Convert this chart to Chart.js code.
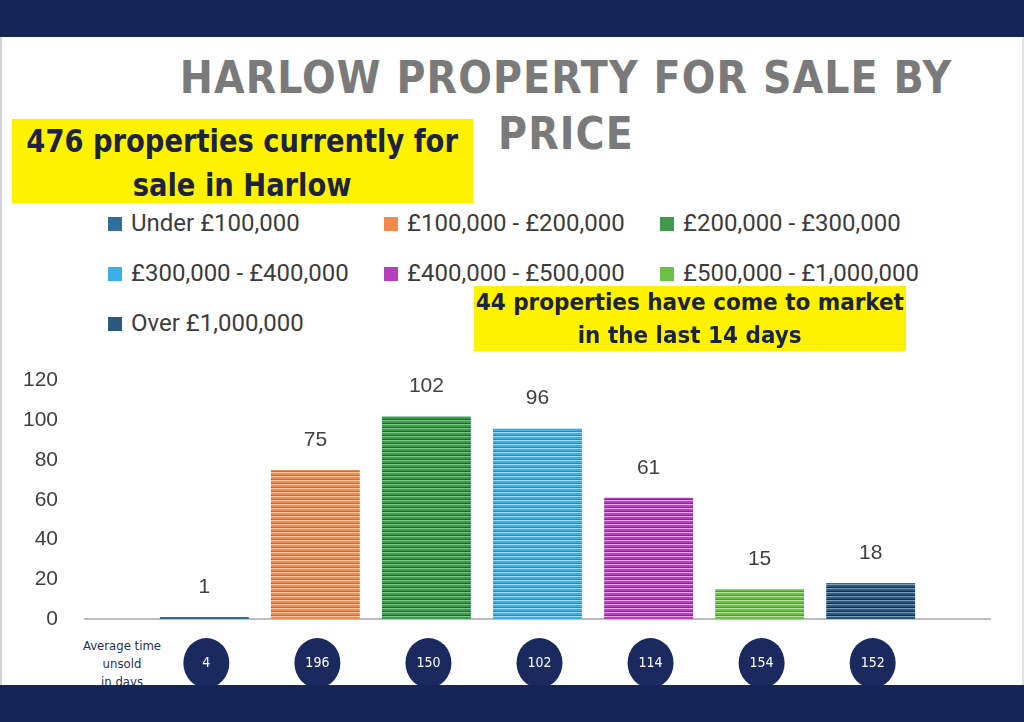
<!DOCTYPE html>
<html>
<head>
<meta charset="utf-8">
<script src="https://cdn.jsdelivr.net/npm/chart.js@4/dist/chart.umd.min.js"></script>
<style>
  html, body { margin: 0; padding: 0; }
  body { width: 1024px; height: 722px; position: relative; overflow: hidden; background: #fff; font-family: Roboto, sans-serif; }
  .band { position: absolute; left: 0; width: 1024px; background: #152656; z-index: 5; }
  .card { position: absolute; left: 0; top: 37px; height: 648px; border-left: 2px solid #d4d4d4; border-right: 2px solid #e2e2e2; box-sizing: border-box; width: 1024px; }
  .title { position: absolute; left: 116px; width: 900px; top: 50px; text-align: center; font-family: "DejaVu Sans Condensed", "DejaVu Sans", sans-serif; font-weight: bold; font-size: 44px; letter-spacing: 1.1px; color: #7a7a7a; line-height: 56px; }
  .yellow { position: absolute; background: #fff200; color: #1b2340; font-family: "DejaVu Sans Condensed", sans-serif; font-weight: bold; text-align: center; white-space: nowrap; z-index: 3; }
  .yellow span { display: inline-block; transform-origin: center; }
  #legend { position: absolute; left: 108px; top: 208px; width: 840px; }
  .li { position: absolute; font-size: 24px; color: #3c3c3c; white-space: nowrap; line-height: 30px; }
  .li span.sw { display: inline-block; width: 14px; height: 14px; margin-right: 9px; vertical-align: 0px; }
  .avg { position: absolute; left: 70px; top: 637px; width: 104px; text-align: center; font-family: "DejaVu Sans Condensed", sans-serif; font-size: 13px; line-height: 18px; color: #1f2d5c; }
  #wrap { position: absolute; left: 0; top: 341px; width: 1024px; height: 353px; }
</style>
</head>
<body>
<div class="card"></div>
<div class="band" style="top:0;height:37px"></div>
<div class="band" style="top:685px;height:37px"></div>
<div class="title">HARLOW PROPERTY FOR SALE BY<br>PRICE</div>
<div class="yellow" style="left:12px;top:119px;width:461px;height:84px;font-size:32px;line-height:44px;"><span style="transform:scaleX(0.95)">476 properties currently for</span><br><span style="transform:scaleX(0.95)">sale in Harlow</span></div>
<div class="yellow" style="left:474px;top:286px;width:432px;height:65px;font-size:23px;line-height:33px;"><span style="transform:scaleX(1.04)">44 properties have come to market</span><br><span style="transform:scaleX(1.04)">in the last 14 days</span></div>
<div id="legend"></div>
<div class="avg">Average time<br>unsold<br>in days</div>
<div id="wrap"><canvas id="c"></canvas></div>
<script>
var priceBands = ["Under £100,000", "£100,000 - £200,000", "£200,000 - £300,000", "£300,000 - £400,000", "£400,000 - £500,000", "£500,000 - £1,000,000", "Over £1,000,000"];
var propertyCounts = [1, 75, 102, 96, 61, 15, 18];
var daysUnsold = [4, 196, 150, 102, 114, 154, 152];
var yTicks = [0, 20, 40, 60, 80, 100, 120];

// base, dark line, light line
var bandColours = [
  ["#2f6f9a", "#1e4f72", "#6aa2c6"],
  ["#f28a4c", "#d9672a", "#fbc7a4"],
  ["#3f9a4e", "#1c6a2a", "#7cc68a"],
  ["#3aaee6", "#1f8cc6", "#a4dcf6"],
  ["#b63fbe", "#8a2393", "#e7a6ec"],
  ["#6cc04a", "#4a9a30", "#b4e69c"],
  ["#2d5a7c", "#152f4a", "#7a9cb6"]
];

var stripe = function(c) {
  var p = document.createElement('canvas');
  p.width = 4; p.height = 4;
  var g = p.getContext('2d');
  g.fillStyle = c[0]; g.fillRect(0, 0, 4, 4);
  g.fillStyle = c[1]; g.fillRect(0, 2, 4, 1);
  g.fillStyle = c[2]; g.fillRect(0, 3, 4, 1);
  return g.createPattern(p, 'repeat');
}

// legend, three columns like the original
var legend = document.getElementById('legend');
priceBands.forEach(function(name, i) {
  var d = document.createElement('div');
  d.className = 'li';
  d.style.left = (i % 3) * 276 + 'px';
  d.style.top = Math.floor(i / 3) * 50 + 'px';
  d.innerHTML = '<span class="sw" style="background:' + bandColours[i][0] + '"></span>' + name;
  legend.appendChild(d);
});

var datasets = priceBands.map(function(name, i) {
  return {
    label: name,
    data: [propertyCounts[i]],
    backgroundColor: stripe(bandColours[i]),
    borderWidth: 0,
    categoryPercentage: 0.859,
    barPercentage: 0.8
  };
});

var labelsAndCircles = {
  id: 'labelsAndCircles',
  afterDatasetsDraw: function(chart) {
    var ctx = chart.ctx;
    var cy = chart.chartArea.bottom + 44;
    ctx.save();
    chart.data.datasets.forEach(function(ds, i) {
      var bar = chart.getDatasetMeta(i).data[0];
      ctx.fillStyle = '#404040';
      ctx.font = '21px "Liberation Sans", Arial, sans-serif';
      ctx.textAlign = 'center';
      ctx.textBaseline = 'middle';
      ctx.fillText(String(ds.data[0]), bar.x, bar.y - 30);
      // average days unsold badge
      ctx.beginPath();
      ctx.fillStyle = '#1a2a5e';
      ctx.ellipse(bar.x + 2, cy, 23, 25, 0, 0, Math.PI * 2);
      ctx.fill();
      ctx.fillStyle = '#ffffff';
      ctx.font = '14px "DejaVu Sans Condensed", sans-serif';
      ctx.fillText(String(daysUnsold[i]), bar.x + 2, cy);
    });
    ctx.restore();
  }
};

new Chart(document.getElementById('c'), {
  type: 'bar',
  data: { labels: [''], datasets: datasets },
  plugins: [labelsAndCircles],
  options: {
    responsive: true,
    maintainAspectRatio: false,
    animation: false,
    layout: { padding: { top: 19, bottom: 67, left: 0, right: 34 } },
    plugins: { legend: { display: false }, tooltip: { enabled: false } },
    scales: {
      x: {
        grid: { display: false },
        border: { display: true, color: '#bdbdbd', width: 2 },
        ticks: { display: false }
      },
      y: {
        min: 0, max: 120,
        afterFit: function(s) { s.width = 85; },
        afterBuildTicks: function(s) { s.ticks = yTicks.map(function(v) { return { value: v }; }); },
        grid: { display: false, drawTicks: false },
        border: { display: false },
        ticks: { padding: 27, color: '#404040', font: { family: '"Liberation Sans", Arial, sans-serif', size: 21 } }
      }
    }
  }
});
</script>
</body>
</html>
